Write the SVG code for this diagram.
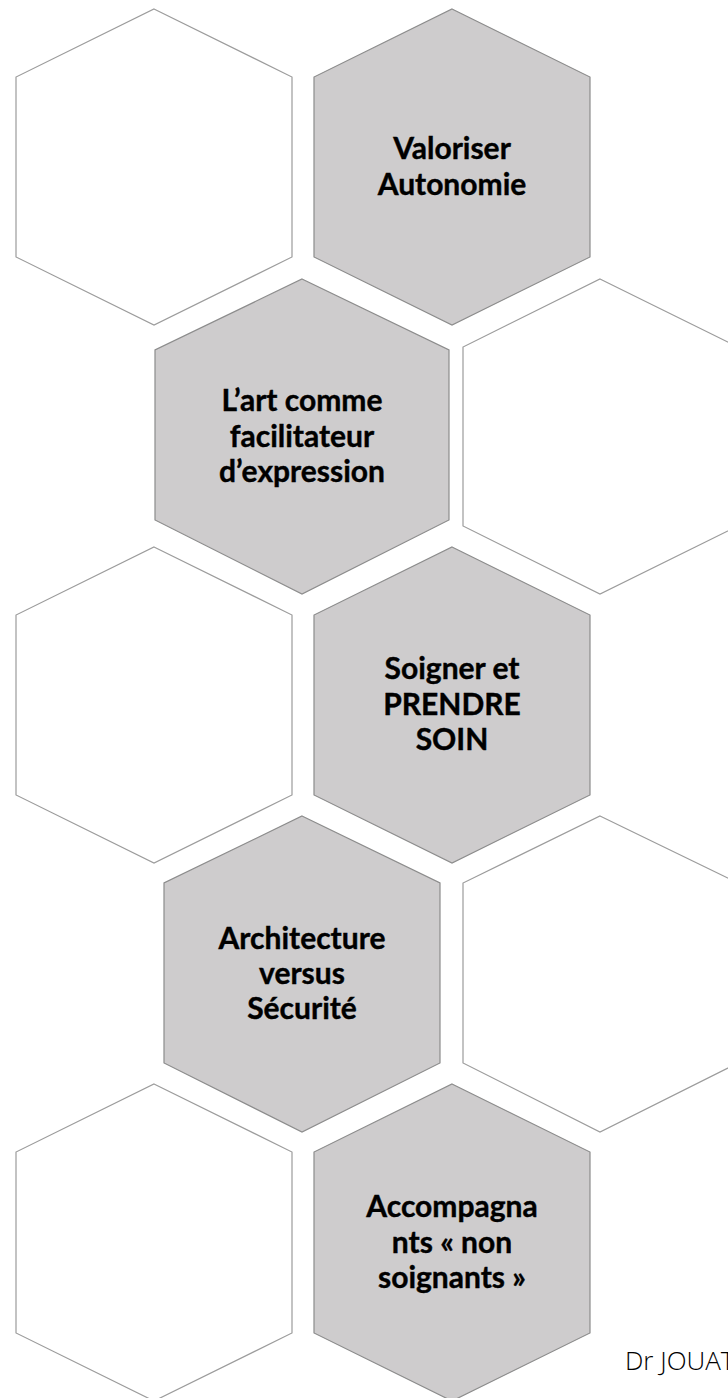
<svg xmlns="http://www.w3.org/2000/svg" width="728" height="1398" viewBox="0 0 728 1398">
  <style>
    .blank { fill: #ffffff; stroke: #9c9c9c; stroke-width: 1.2; }
    .filled { fill: #cecccd; stroke: #8c8c8c; stroke-width: 1.2; }
    .label { font-family: "Lato", "Open Sans", "Liberation Sans", sans-serif; font-weight: 700; font-size: 30px; fill: #000000; stroke: #000000; stroke-width: 0.4; text-anchor: middle; }
    .sign { font-family: "Open Sans", "Liberation Sans", sans-serif; font-weight: 300; font-size: 26px; fill: #000000; }
  </style>
  <rect width="728" height="1398" fill="#ffffff"/>

  <!-- row 1 -->
  <g id="hex-r1-left">
    <path class="blank" d="M154,9 L292,77 L292,257 L154,325 L16,257 L16,77 Z"/>
  </g>
  <g id="hex-valoriser">
    <path class="filled" d="M452,9 L590,77 L590,257 L452,325 L314,257 L314,77 Z"/>
    <text class="label" x="452" y="159">Valoriser</text>
    <text class="label" x="452" y="195">Autonomie</text>
  </g>

  <!-- row 2 -->
  <g id="hex-art">
    <path class="filled" d="M302,279 L449,350 L449,520 L302,594 L155,520 L155,350 Z"/>
    <text class="label" x="302" y="411">L’art comme</text>
    <text class="label" x="302" y="447">facilitateur</text>
    <text class="label" x="302" y="482">d’expression</text>
  </g>
  <g id="hex-r2-right">
    <path class="blank" d="M600,279 L738,347 L738,526 L600,594 L463,526 L463,347 Z"/>
  </g>

  <!-- row 3 -->
  <g id="hex-r3-left">
    <path class="blank" d="M154,547 L292,615 L292,795 L154,863 L16,795 L16,615 Z"/>
  </g>
  <g id="hex-soigner">
    <path class="filled" d="M452,547 L590,615 L590,795 L452,863 L314,795 L314,615 Z"/>
    <text class="label" x="452" y="679">Soigner et</text>
    <text class="label" x="452" y="715">PRENDRE</text>
    <text class="label" x="452" y="750">SOIN</text>
  </g>

  <!-- row 4 -->
  <g id="hex-architecture">
    <path class="filled" d="M302,816 L440,883 L440,1063 L302,1132 L164,1063 L164,883 Z"/>
    <text class="label" x="302" y="949">Architecture</text>
    <text class="label" x="302" y="984">versus</text>
    <text class="label" x="302" y="1019">Sécurité</text>
  </g>
  <g id="hex-r4-right">
    <path class="blank" d="M600,816 L738,883 L738,1063 L600,1132 L463,1063 L463,883 Z"/>
  </g>

  <!-- row 5 -->
  <g id="hex-r5-left">
    <path class="blank" d="M154,1084 L292,1152 L292,1333 L154,1401 L16,1333 L16,1152 Z"/>
  </g>
  <g id="hex-accompagnants">
    <path class="filled" d="M452,1084 L590,1152 L590,1333 L452,1401 L314,1333 L314,1152 Z"/>
    <text class="label" x="452" y="1217">Accompagna</text>
    <text class="label" x="452" y="1253">nts « non</text>
    <text class="label" x="452" y="1288">soignants »</text>
  </g>

  <!-- no connectors in this layout -->
  <g id="connectors"/>

  <text class="sign" x="625" y="1370">Dr JOUAT</text>
</svg>
